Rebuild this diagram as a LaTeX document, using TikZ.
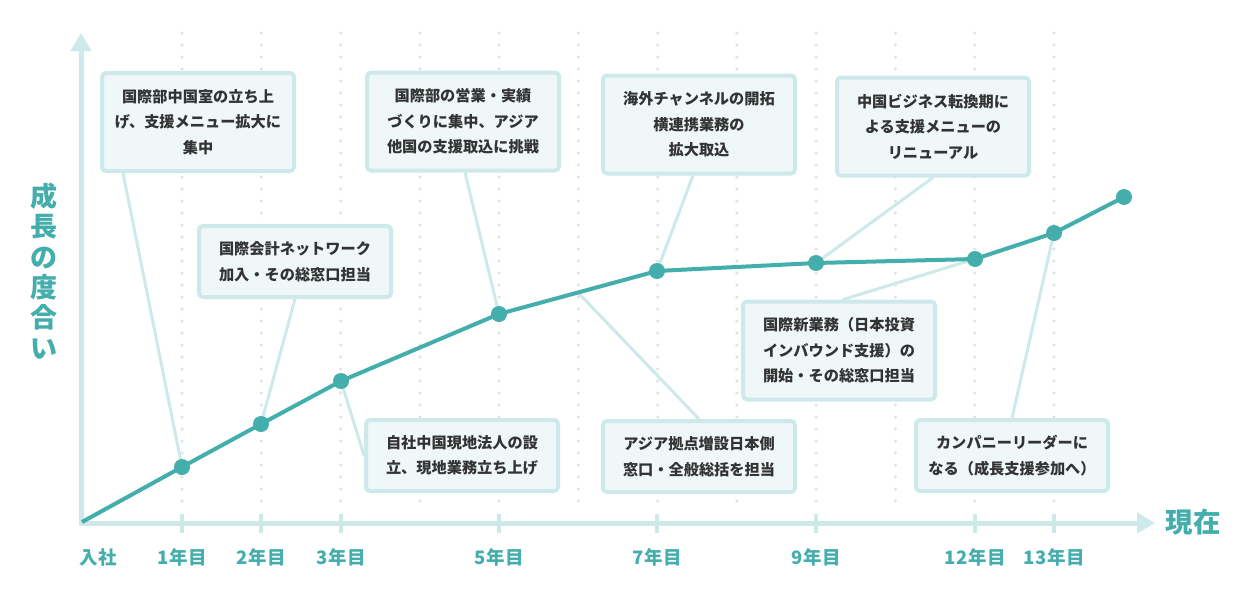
\documentclass[tikz,border=0pt]{standalone}
\usepackage{fontspec}
\setmainfont{Noto Sans CJK JP}
\newfontfamily\yearfont{Noto Sans CJK JP}[LetterSpace=4]
\usepackage{xcolor}
\definecolor{growthteal}{HTML}{43AEAC}
\definecolor{axislight}{HTML}{CDE9EA}
\definecolor{boxfill}{HTML}{EFF7F9}
\definecolor{dotgray}{HTML}{E2E2E2}
\definecolor{textgray}{HTML}{333333}
\usepackage{tikz}
\usetikzlibrary{positioning,backgrounds}
\usetikzlibrary{arrows.meta}
\tikzset{>={Triangle[width=20pt,length=18pt]}}
\tikzset{
  stepbox/.style={draw=axislight, line width=4pt, fill=boxfill, rounded corners=4pt,
    minimum width=192pt, inner sep=0pt, align=center, text=textgray,
    font=\bfseries\fontsize{15.2}{25.5}\selectfont},
  tallbox/.style={stepbox, minimum height=98pt},
  shortbox/.style={stepbox, minimum height=71pt},
  link/.style={draw=axislight, line width=3pt},
  axis/.style={draw=axislight, line width=5pt},
  tickmark/.style={draw=axislight, line width=3.5pt},
  griddots/.style={draw=dotgray, line width=3.5pt, line cap=round, dash pattern=on 0pt off 12pt},
  curve/.style={draw=growthteal, line width=4pt, line join=round},
  yearlabel/.style={anchor=base, text=growthteal, font=\yearfont\bfseries\fontsize{18.5}{18.5}\selectfont, inner sep=0pt},
}

\begin{document}
\begin{tikzpicture}[x=1pt, y=-1pt]
\useasboundingbox (0,0) rectangle (1245,600);

% points on the growth line
\coordinate (p0) at (82,522);
\coordinate (p1) at (182,467);
\coordinate (p2) at (261,424);
\coordinate (p3) at (341,381);
\coordinate (p5) at (499,314);
\coordinate (p6) at (578,292.5);
\coordinate (p7) at (657,271);
\coordinate (p9) at (816,263);
\coordinate (p12) at (975,259);
\coordinate (p13) at (1054,233);
\coordinate (pnow) at (1124,197);

% event boxes
\node[tallbox] (b1) at (198,122) {国際部中国室の立ち上\\げ、支援メニュー拡大に\\集中};
\node[shortbox] (b2) at (295,261.5) {国際会計ネットワーク\\加入・その総窓口担当};
\node[tallbox] (b3) at (463,121.5) {国際部の営業・実績\\づくりに集中、アジア\\他国の支援取込に挑戦};
\node[tallbox] (b4) at (699,124.5) {海外チャンネルの開拓\\横連携業務の\\拡大取込};
\node[tallbox] (b5) at (933,126.5) {中国ビジネス転換期に\\よる支援メニューの\\リニューアル};
\node[shortbox] (b6) at (462,455.5) {自社中国現地法人の設\\立、現地業務立ち上げ};
\node[shortbox] (b7) at (699,456.5) {アジア拠点増設日本側\\窓口・全般総括を担当};
\node[tallbox] (b8) at (839,350.5) {国際新業務（日本投資\\インバウンド支援）の\\開始・その総窓口担当};
\node[shortbox] (b9) at (1012,455.5) {カンパニーリーダーに\\なる（成長支援参加へ）};

\begin{scope}[on background layer]
  \foreach \i in {0,...,11}
    \draw[griddots] ({182+79.27*\i},33) -- ({182+79.27*\i},510);
  \draw[axis, <->] (81,33) -- (81,523) -- (1155,523);
  % connectors
  \draw[link] ([xshift=-75pt]b1.south) -- (p1);
  \draw[link] (b2.south) -- (p2);
  \draw[link] ([xshift=2pt]b3.south) -- (p5);
  \draw[link] ([xshift=-6pt]b4.south) -- (p7);
  \draw[link] (b5.south) -- (p9);
  \draw[link] (p3) -- (b6.west);
  \draw[link] (p6) -- (b7.north);
  \draw[link] ([xshift=4pt]b8.north) -- (p12);
  \draw[link] (b9.north) -- (p13);
\end{scope}

\draw[curve] (p0) -- (p1) -- (p2) -- (p3) -- (p5) -- (p7) -- (p9) -- (p12) -- (p13) -- (pnow);
\foreach \p in {p1,p2,p3,p5,p7,p9,p12,p13,pnow}
  \fill[growthteal] (\p) circle (8);

% axis labels
\foreach \x/\yr in {182/1,261/2,341/3,499/5,657/7,816/9,975/12,1054/13} {
  \draw[tickmark] (\x,514) -- (\x,533);
  \node[yearlabel] (y\yr) at (\x,564) {\yr 年目};
}
\node[yearlabel, anchor=base west] (start) at (79,564) {入社};
\node[text=growthteal, font=\bfseries\fontsize{27.5}{27.5}\selectfont] (now) at (1193,522) {現在};
\node[text=growthteal, align=center, font=\bfseries\fontsize{27}{30.4}\selectfont] (ylabel) at (44,271) {成\\長\\の\\度\\合\\い};

\end{tikzpicture}
\end{document}
